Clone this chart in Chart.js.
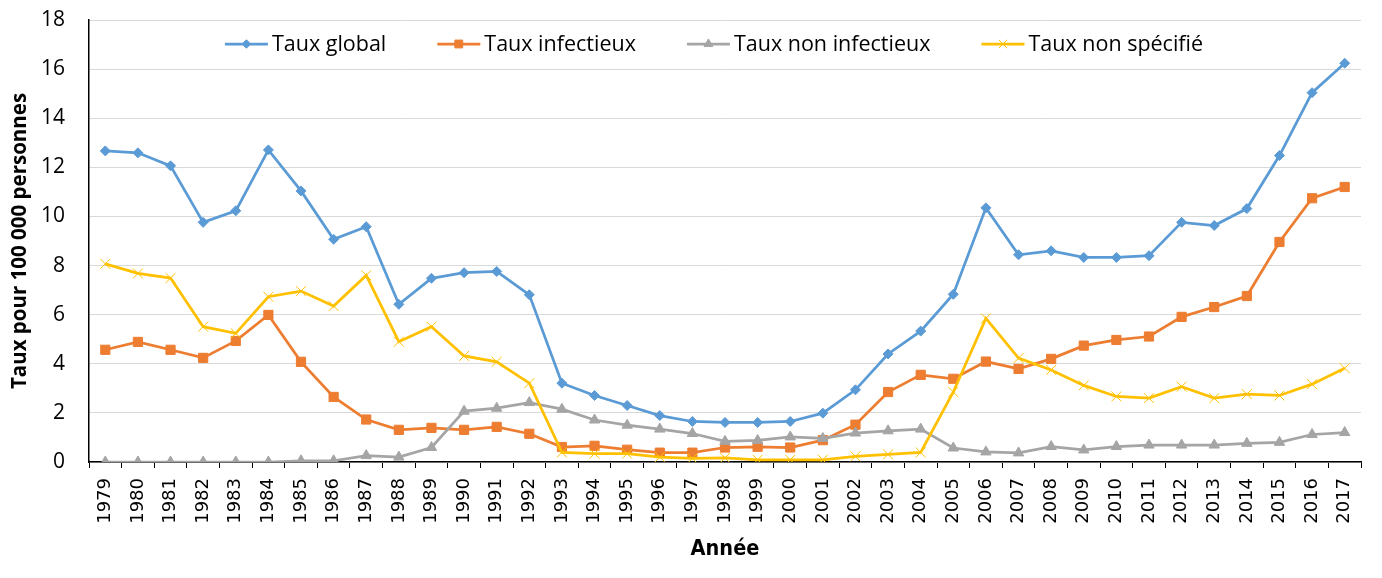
<!DOCTYPE html>
<html>
<head>
<meta charset="utf-8">
<script src="https://cdn.jsdelivr.net/npm/chart.js@4/dist/chart.umd.min.js"></script>
<style>
html,body{margin:0;padding:0;background:#fff;}
#wrap{width:1382px;height:578px;position:relative;}
</style>
</head>
<body>
<div id="wrap"><canvas id="c" width="1382" height="578"></canvas></div>
<script>
const years = ['1979','1980','1981','1982','1983','1984','1985','1986','1987','1988','1989','1990','1991','1992','1993','1994','1995','1996','1997','1998','1999','2000','2001','2002','2003','2004','2005','2006','2007','2008','2009','2010','2011','2012','2013','2014','2015','2016','2017'];

const tauxGlobal = [12.67,12.59,12.06,9.76,10.23,12.71,11.04,9.07,9.58,6.42,7.48,7.71,7.76,6.81,3.21,2.71,2.30,1.89,1.65,1.61,1.61,1.65,1.99,2.94,4.40,5.33,6.83,10.35,8.44,8.60,8.33,8.33,8.40,9.76,9.63,10.32,12.48,15.04,16.24];

const tauxInfectieux = [4.57,4.89,4.57,4.24,4.93,5.99,4.08,2.65,1.73,1.31,1.39,1.31,1.43,1.15,0.61,0.66,0.50,0.38,0.38,0.59,0.62,0.59,0.89,1.52,2.85,3.55,3.39,4.09,3.79,4.20,4.74,4.97,5.11,5.91,6.31,6.76,8.96,10.74,11.20];

const tauxNonInfectieux = [0,0,0,0,0,0,0.05,0.05,0.26,0.20,0.59,2.07,2.19,2.42,2.15,1.71,1.50,1.34,1.16,0.84,0.88,1.02,0.96,1.18,1.27,1.34,0.57,0.41,0.37,0.63,0.49,0.63,0.69,0.69,0.69,0.76,0.80,1.12,1.20];

const tauxNonSpecifie = [8.07,7.68,7.49,5.51,5.24,6.73,6.96,6.35,7.60,4.90,5.51,4.32,4.08,3.21,0.39,0.34,0.34,0.20,0.15,0.17,0.09,0.09,0.09,0.23,0.31,0.39,2.85,5.85,4.23,3.75,3.12,2.67,2.60,3.07,2.60,2.76,2.71,3.17,3.82];

const seriesNames = ['Taux global','Taux infectieux','Taux non infectieux','Taux non spécifié'];
const yTicks = [0,2,4,6,8,10,12,14,16,18];

const colors = ['#5B9BD5','#ED7D31','#A5A5A5','#FFC000'];
const styles = [
  {pointStyle:'rectRot', radius:5, borderWidth:1},
  {pointStyle:'rect', radius:6.5, borderWidth:1},
  {pointStyle:'triangle', radius:6, borderWidth:1},
  {pointStyle:'crossRot', radius:7, borderWidth:1}
];

const legendPlugin = {
  id: 'customLegend',
  afterDraw(chart) {
    const ctx = chart.ctx;
    ctx.save();
    ctx.font = '21.5px "Open Sans"';
    const lineW = 43, gapLT = 4, gapItem = 51;
    const widths = seriesNames.map(n => ctx.measureText(n).width);
    let total = 0;
    widths.forEach(w => total += lineW + gapLT + w);
    total += gapItem * (seriesNames.length - 1);
    let x = 714 - total / 2;
    const y = 44;
    seriesNames.forEach((name, i) => {
      ctx.strokeStyle = colors[i];
      ctx.lineWidth = 2.75;
      ctx.beginPath();
      ctx.moveTo(x, y);
      ctx.lineTo(x + lineW, y);
      ctx.stroke();
      ctx.fillStyle = colors[i];
      ctx.strokeStyle = colors[i];
      ctx.lineWidth = styles[i].borderWidth;
      Chart.helpers.drawPoint(ctx, {pointStyle: styles[i].pointStyle, radius: styles[i].radius * 0.85, borderWidth: styles[i].borderWidth, rotation: 0}, x + lineW / 2, y);
      ctx.fillStyle = '#000';
      ctx.textBaseline = 'middle';
      ctx.textAlign = 'left';
      ctx.fillText(name, x + lineW + gapLT, y + 1);
      x += lineW + gapLT + widths[i] + gapItem;
    });
    ctx.restore();
  }
};

const seriesData = [tauxGlobal, tauxInfectieux, tauxNonInfectieux, tauxNonSpecifie];
const datasets = seriesData.map((d, i) => ({
  label: seriesNames[i],
  data: d,
  borderColor: colors[i],
  backgroundColor: colors[i],
  borderWidth: 2.75,
  pointStyle: styles[i].pointStyle,
  pointRadius: styles[i].radius,
  pointBorderWidth: styles[i].borderWidth,
  pointBackgroundColor: colors[i],
  pointBorderColor: colors[i],
  tension: 0,
  order: 3 - i
}));

new Chart(document.getElementById('c'), {
  type: 'line',
  data: { labels: years, datasets },
  plugins: [legendPlugin],
  options: {
    responsive: false,
    animation: false,
    devicePixelRatio: 1,
    layout: { autoPadding: false, padding: { top: 20, right: 21, bottom: 0, left: 0 } },
    plugins: { legend: { display: false }, tooltip: { enabled: false } },
    scales: {
      x: {
        type: 'category',
        offset: true,
        grid: { display: true, offset: true, drawOnChartArea: false, drawTicks: true, tickLength: 6, color: '#000', lineWidth: 1 },
        border: { display: true, color: '#000', width: 1.5 },
        ticks: { autoSkip: false, minRotation: 90, maxRotation: 90, padding: 10, color: '#000', font: { family: '"DejaVu Sans"', size: 18 } },
        title: { display: true, text: 'Année', color: '#000', font: { family: '"DejaVu Sans Condensed", "DejaVu Sans"', size: 21.5, weight: 'bold' }, padding: { top: 0, bottom: 16 } },
        afterFit(scale) { scale.height = 116; scale.paddingLeft = 0; scale.paddingRight = 0; }
      },
      y: {
        min: 0, max: 18,
        afterBuildTicks(scale) { scale.ticks = yTicks.map(v => ({ value: v })); },
        grid: { color: '#D9D9D9', lineWidth: 1, drawTicks: false },
        border: { display: true, color: '#000', width: 1.5 },
        ticks: { padding: 24, color: '#000', font: { family: '"Open Sans"', size: 21 } },
        title: { display: true, text: 'Taux pour 100 000 personnes', color: '#000', font: { family: '"Open Sans"', size: 20.5, weight: 'bold' }, padding: { top: 7.7, bottom: 0 } },
        afterFit(scale) { scale.width = 89; scale.paddingTop = 0; scale.paddingBottom = 0; }
      }
    }
  }
});
</script>
</body>
</html>
